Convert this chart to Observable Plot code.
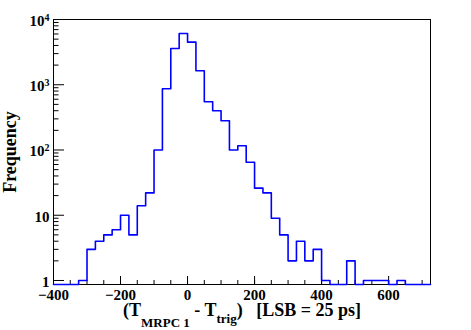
<!DOCTYPE html>
<html><head><meta charset="utf-8">
<script src="https://cdn.jsdelivr.net/npm/d3@7"></script>
<script src="https://cdn.jsdelivr.net/npm/@observablehq/plot@0.6"></script>
<style>body{margin:0;background:#fff} svg{display:block}</style>
</head><body><div id="chart"></div>
<script>
// Histogram bins (lower edges, LSB units) and counts
const binLow = [-400,-375,-350,-325,-300,-275,-250,-225,-200,-175,-150,-125,-100,-75,-50,-25,
  0,25,50,75,100,125,150,175,200,225,250,275,300,325,350,375,400,425,450,475,500,525,550,575,600,625,650,675,700];
const counts = [0,0,0,1,3,4,5,6,10,5,14,22,100,870,3600,6100,
  4500,1640,550,400,280,100,116,65,26,22,9,5,2,4,2,3,1,0,0,2,0,1,1,1,0,1,0,0,0];
const lastEdge = 725;
const xDomain = [-400, 725];
const yDomain = [0.868, 10000];
const xMajor = [-400,-200,0,200,400,600];
const xMinor = d3.range(-400, 726, 50);
const yMajor = [1,10,100,1000,10000];
const yMinor = [2,3,4,5,6,7,8,9,20,30,40,50,60,70,80,90,200,300,400,500,600,700,800,900,2000,3000,4000,5000,6000,7000,8000,9000];
const yTitle = "Frequency";
const xTitle = "(T_MRPC 1 - T_trig)   [LSB = 25 ps]";

const W = 471, H = 330, mL = 53, mR = 41, mT = 19, mB = 46;
const fw = W - mL - mR, fh = H - mT - mB;

const pts = binLow.map((x, i) => ({x, y: counts[i] > 0 ? counts[i] : yDomain[0]}));
pts.push({x: lastEdge, y: pts[pts.length - 1].y});

const serif = "'Liberation Serif','Times New Roman',serif";
const chart = Plot.plot({
  width: W, height: H,
  marginLeft: mL, marginRight: mR, marginTop: mT, marginBottom: mB,
  x: {domain: xDomain, label: null},
  y: {type: "log", domain: yDomain, label: null},
  style: {fontFamily: serif, fontWeight: "bold", fontSize: "15px", background: "white", color: "black"},
  marks: [
    Plot.ruleX(xMinor, {x: d => d, insetTop: fh - 4, stroke: "black"}),
    Plot.ruleX(xMajor, {x: d => d, insetTop: fh - 8, stroke: "black"}),
    Plot.ruleY(yMinor, {y: d => d, insetRight: fw - 5.5, stroke: "black"}),
    Plot.ruleY(yMajor, {y: d => d, insetRight: fw - 11, stroke: "black"}),
    Plot.axisX(xMajor, {tickSize: 0, tickPadding: 5, fontSize: 15}),
    Plot.axisY(yMajor, {tickSize: 0, tickPadding: 4, fontSize: 15, dy: 1.5,
      tickFormat: d => d >= 100 ? "10^" + Math.round(Math.log10(d)) : String(d)}),
    Plot.frame({stroke: "black"}),
    Plot.line(pts, {x: "x", y: "y", curve: "step-after", stroke: "#0000ff", strokeWidth: 1.6}),
    Plot.text([yTitle], {frameAnchor: "left", dx: -38, rotate: -90, fontSize: 18, lineAnchor: "bottom", textAnchor: "middle"}),
    Plot.text([xTitle], {frameAnchor: "bottom", dy: 31, fontSize: 18, lineAnchor: "bottom", textAnchor: "middle"})
  ]
});
document.getElementById("chart").appendChild(chart);

const NS = "http://www.w3.org/2000/svg";
d3.select(chart).selectAll("text").each(function() {
  const t = this.textContent;
  const m = /^10\^(\d)$/.exec(t);
  if (m) {
    this.textContent = "10";
    const s = document.createElementNS(NS, "tspan");
    s.setAttribute("font-size", "10");
    s.setAttribute("dy", "-5");
    s.textContent = m[1];
    this.appendChild(s);
  } else if (t === xTitle) {
    this.textContent = "";
    const parts = [["(T", 0, null], ["MRPC 1", 11, 13], ["\u00a0- T", -11, null], ["trig", 7, 13], [")", -7, null], ["\u00a0\u00a0\u00a0[LSB = 25 ps]", 0, null]];
    for (const [txt, dy, fs] of parts) {
      const s = document.createElementNS(NS, "tspan");
      if (dy) s.setAttribute("dy", dy);
      if (fs) s.setAttribute("font-size", fs);
      s.textContent = txt;
      this.appendChild(s);
    }
  }
});
</script>
</body></html>
